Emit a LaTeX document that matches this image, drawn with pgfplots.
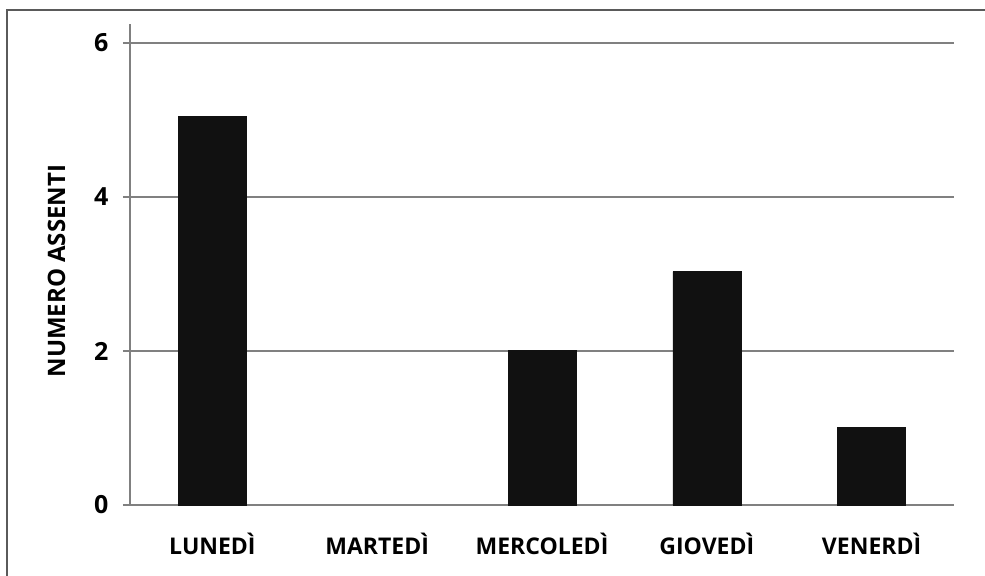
\documentclass[border=0pt]{standalone}
\usepackage{pgfplots}
\pgfplotsset{compat=1.18}
\usepackage{fontspec}
\setmainfont{Open Sans}[BoldFont={* Bold}]
\definecolor{gridc}{HTML}{808080}
\definecolor{barc}{HTML}{111111}
\begin{document}
\begin{tikzpicture}
\useasboundingbox (0,0) rectangle (985bp,576bp);
\draw[gridc!70!black, line width=1.8bp] (7bp,0) -- (7bp,566bp) -- (990bp,566bp);
\begin{axis}[
  at={(130bp,71bp)}, anchor=south west,
  scale only axis, width=824bp, height=481.25bp,
  xmin=-0.5, xmax=4.5, ymin=0, ymax=6.25,
  axis x line=bottom, axis y line=left,
  axis line style={gridc, line width=1.6bp, -},
  ytick={0,2,4,6},
  ymajorgrids, grid style={gridc, line width=1.8bp},
  xtick={0,1,2,3,4},
  xticklabels={LUNEDÌ,MARTEDÌ,MERCOLEDÌ,GIOVEDÌ,VENERDÌ},
  xtick style={draw=none},
  extra x ticks={-0.5,0.5,1.5,2.5,3.5,4.5},
  extra x tick labels={},
  extra x tick style={major tick length=13bp, tick style={gridc, line width=1.6bp}, tick align=outside, grid=none},
  major tick length=7bp, tick align=outside,
  ytick style={gridc, line width=1.6bp},
  y tick label style={font=\fontsize{25bp}{29bp}\selectfont\bfseries, xshift=-11bp},
  x tick label style={font=\fontsize{23bp}{27bp}\selectfont\bfseries, yshift=-18bp},
  ylabel={NUMERO ASSENTI},
  ylabel style={font=\fontsize{24bp}{28bp}\selectfont\bfseries, at={(axis description cs:-0.089,0.486)}, anchor=center, rotate=0},
  tick label style={/pgf/number format/assume math mode=true},
  clip=false,
]
\addplot[ybar, bar width=68bp, fill=barc, draw=barc] coordinates {(0,5.05) (2,2.01) (3,3.03) (4,1.01)};
\end{axis}
\end{tikzpicture}
\end{document}
